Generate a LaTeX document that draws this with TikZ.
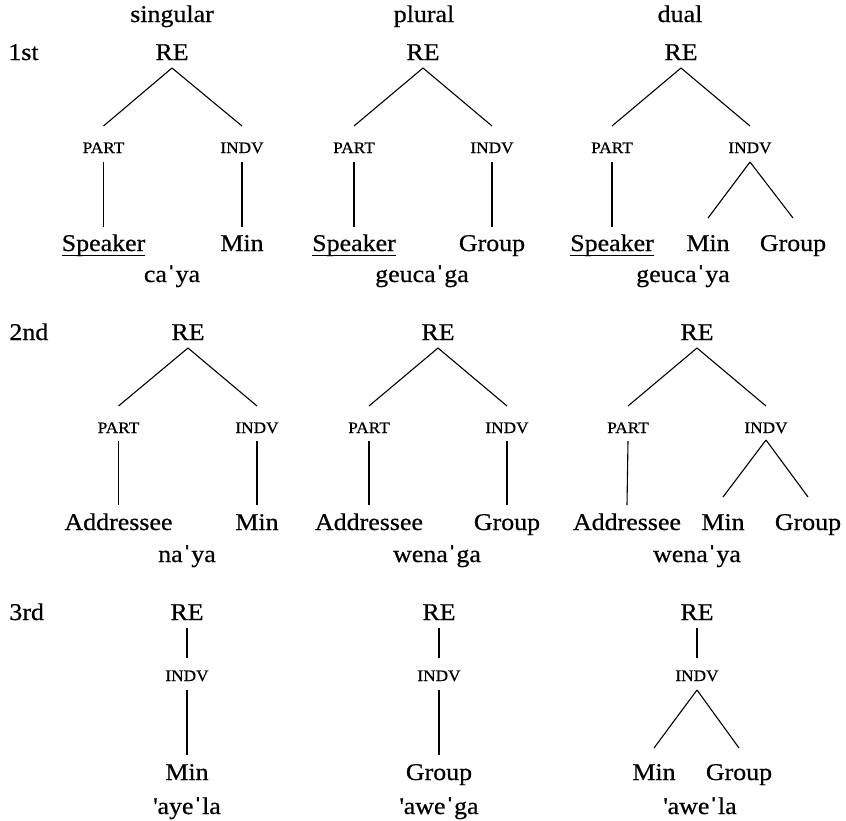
\documentclass[tikz,border=0pt]{standalone}
\usepackage{fontspec}
\setmainfont{Liberation Serif}[FakeStretch=1.08,FakeBold=0.6]
\newcommand{\gl}{{\fontspec{Liberation Serif}[FakeStretch=1.08,FakeBold=2.5]ˈ}}
\newcommand{\sq}{\textquotesingle}
\newcommand{\ulword}[1]{\setbox0=\hbox{#1}\rlap{\rule[-2.3pt]{\wd0}{0.5pt}}\box0}
\begin{document}
\begin{tikzpicture}[x=0.5pt,y=-0.5pt,
  every node/.style={inner sep=0pt, anchor=base},
  word/.style={font=\fontsize{12}{14}\selectfont},
  cat/.style={font=\fontsize{8}{10}\selectfont},
  branch/.style={line width=0.55pt}]
\useasboundingbox (0,0) rectangle (846,820);

% headers
\node[word] (h1) at (172,22) {singular};
\node[word] (h2) at (424,22) {plural};
\node[word] (h3) at (680,22) {dual};
\node[word,anchor=base west] (r1) at (8,60) {1st};
\node[word,anchor=base west] (r2) at (9,340) {2nd};
\node[word,anchor=base west] (r3) at (9,620) {3rd};

% ---------- row 1 ----------
\node[word] (re1a) at (172,60) {RE};
\node[cat] (part1a) at (103.5,153) {PART};
\node[cat] (indv1a) at (242,153) {INDV};
\node[word] (spk1a) at (103.5,251) {\ulword{Speaker}};
\node[word] (min1a) at (242,251) {Min};
\node[word] (w1a) at (172,282) {ca\gl ya};

\node[word] (re1b) at (423,60) {RE};
\node[cat] (part1b) at (354,153) {PART};
\node[cat] (indv1b) at (492,153) {INDV};
\node[word] (spk1b) at (354,251) {\ulword{Speaker}};
\node[word] (grp1b) at (492,251) {Group};
\node[word] (w1b) at (422,282) {geuca\gl ga};

\node[word] (re1c) at (681,60) {RE};
\node[cat] (part1c) at (612,153) {PART};
\node[cat] (indv1c) at (750,153) {INDV};
\node[word] (spk1c) at (612,251) {\ulword{Speaker}};
\node[word] (min1c) at (708,251) {Min};
\node[word] (grp1c) at (793,251) {Group};
\node[word] (w1c) at (683,282) {geuca\gl ya};

% ---------- row 2 ----------
\node[word] (re2a) at (188,340) {RE};
\node[cat] (part2a) at (118.5,433) {PART};
\node[cat] (indv2a) at (257,433) {INDV};
\node[word] (adr2a) at (118.5,530) {Addressee};
\node[word] (min2a) at (257,530) {Min};
\node[word] (w2a) at (187,562) {na\gl ya};

\node[word] (re2b) at (438,340) {RE};
\node[cat] (part2b) at (369,433) {PART};
\node[cat] (indv2b) at (507,433) {INDV};
\node[word] (adr2b) at (369,530) {Addressee};
\node[word] (grp2b) at (507,530) {Group};
\node[word] (w2b) at (437,562) {wena\gl ga};

\node[word] (re2c) at (697,340) {RE};
\node[cat] (part2c) at (628,433) {PART};
\node[cat] (indv2c) at (766,433) {INDV};
\node[word] (adr2c) at (627,530) {Addressee};
\node[word] (min2c) at (723,530) {Min};
\node[word] (grp2c) at (808,530) {Group};
\node[word] (w2c) at (697,562) {wena\gl ya};

% ---------- row 3 ----------
\node[word] (re3a) at (187,620) {RE};
\node[cat] (indv3a) at (187,681) {INDV};
\node[word] (min3a) at (187,780) {Min};
\node[word] (w3a) at (187,814) {\sq aye\gl la};

\node[word] (re3b) at (439,620) {RE};
\node[cat] (indv3b) at (439,681) {INDV};
\node[word] (grp3b) at (439,780) {Group};
\node[word] (w3b) at (439,814) {\sq awe\gl ga};

\node[word] (re3c) at (697,620) {RE};
\node[cat] (indv3c) at (697,681) {INDV};
\node[word] (min3c) at (654,780) {Min};
\node[word] (grp3c) at (739,780) {Group};
\node[word] (w3c) at (700,814) {\sq awe\gl la};

% ---------- connectors ----------
\foreach \t in {1a,1b,1c,2a,2b,2c}{
  \draw[branch] ([yshift=-4pt]re\t.base) -- ([yshift=13.5pt]part\t.base);
  \draw[branch] ([yshift=-4pt]re\t.base) -- ([yshift=13.5pt]indv\t.base);
}
% row 1
\draw[branch] ([yshift=-4.5pt]part1a.base) -- ([yshift=12pt]spk1a.base);
\draw[branch] ([yshift=-4.5pt]indv1a.base) -- ([yshift=12pt]min1a.base);
\draw[branch] ([yshift=-4.5pt]part1b.base) -- ([yshift=12pt]spk1b.base);
\draw[branch] ([yshift=-4.5pt]indv1b.base) -- ([yshift=12pt]grp1b.base);
\draw[branch] ([yshift=-4.5pt]part1c.base) -- ([yshift=12pt]spk1c.base);
\draw[branch] ([yshift=-4.5pt]indv1c.base) -- ([yshift=16.5pt]min1c.base);
\draw[branch] ([yshift=-4.5pt]indv1c.base) -- ([yshift=16.5pt]grp1c.base);
% row 2
\draw[branch] ([yshift=-4pt]part2a.base) -- ([yshift=12.5pt]adr2a.base);
\draw[branch] ([yshift=-4pt]indv2a.base) -- ([yshift=12.5pt]min2a.base);
\draw[branch] ([yshift=-4pt]part2b.base) -- ([yshift=12.5pt]adr2b.base);
\draw[branch] ([yshift=-4pt]indv2b.base) -- ([yshift=12.5pt]grp2b.base);
\draw[branch] ([yshift=-4pt]part2c.base) -- ([yshift=12.5pt]adr2c.base);
\draw[branch] ([yshift=-3.5pt]indv2c.base) -- ([yshift=16.5pt]min2c.base);
\draw[branch] ([yshift=-3.5pt]indv2c.base) -- ([yshift=16.5pt]grp2c.base);
% row 3
\foreach \t in {3a,3b,3c}{
  \draw[branch] ([yshift=-4pt]re\t.base) -- ([yshift=11.5pt]indv\t.base);
}
\draw[branch] ([yshift=-4.5pt]indv3a.base) -- ([yshift=12.5pt]min3a.base);
\draw[branch] ([yshift=-4.5pt]indv3b.base) -- ([yshift=12.5pt]grp3b.base);
\draw[branch] ([yshift=-4.5pt]indv3c.base) -- ([yshift=16pt]min3c.base);
\draw[branch] ([yshift=-4.5pt]indv3c.base) -- ([yshift=16pt]grp3c.base);
\end{tikzpicture}
\end{document}
